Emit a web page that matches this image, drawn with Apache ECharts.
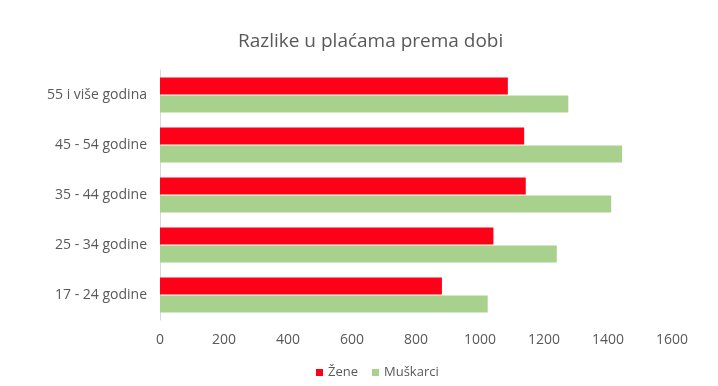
<!DOCTYPE html>
<html>
<head>
<meta charset="utf-8">
<script src="https://cdn.jsdelivr.net/npm/echarts@6/dist/echarts.min.js"></script>
<style>html,body{margin:0;padding:0;background:#fff}#c{width:718px;height:386px}</style>
</head>
<body>
<div id="c"></div>
<script>
const categories = ['55 i više godina', '45 - 54 godine', '35 - 44 godine', '25 - 34 godine', '17 - 24 godine'];
const zene = [1087, 1138, 1143, 1042, 881];
const muskarci = [1276, 1444, 1410, 1240, 1024];
const xTicks = [0, 200, 400, 600, 800, 1000, 1200, 1400, 1600];

const chart = echarts.init(document.getElementById('c'));
const font = 'Open Sans';
chart.setOption({
  backgroundColor: '#fff',
  animation: false,
  title: {
    text: 'Razlike u plaćama prema dobi',
    left: 233, top: 27,
    textStyle: { fontFamily: font, fontSize: 19, fontWeight: 'normal', color: '#595959' }
  },
  legend: {
    data: ['Žene', 'Muškarci'],
    bottom: 2, left: 311,
    itemWidth: 7, itemHeight: 7, itemGap: 14,
    icon: 'rect',
    textStyle: { fontFamily: font, fontSize: 13, color: '#595959' }
  },
  grid: { left: 160, right: 46, top: 70, bottom: 66 },
  xAxis: {
    type: 'value', min: xTicks[0], max: xTicks[xTicks.length - 1], interval: 200,
    axisLine: { show: false }, axisTick: { show: false }, splitLine: { show: false },
    axisLabel: { fontFamily: font, fontSize: 14, color: '#595959', margin: 13, formatter: v => String(v) }
  },
  yAxis: {
    type: 'category', data: categories, inverse: true,
    axisLine: { show: true, lineStyle: { color: '#d9d9d9' } },
    axisTick: { show: false },
    axisLabel: { fontFamily: font, fontSize: 14, color: '#595959', margin: 13 }
  },
  series: [
    { name: 'Žene', type: 'bar', data: zene, barWidth: 17, barGap: '5%', itemStyle: { color: '#ff0019' } },
    { name: 'Muškarci', type: 'bar', data: muskarci, barWidth: 17, itemStyle: { color: '#a9d18e' } }
  ]
});
</script>
</body>
</html>
